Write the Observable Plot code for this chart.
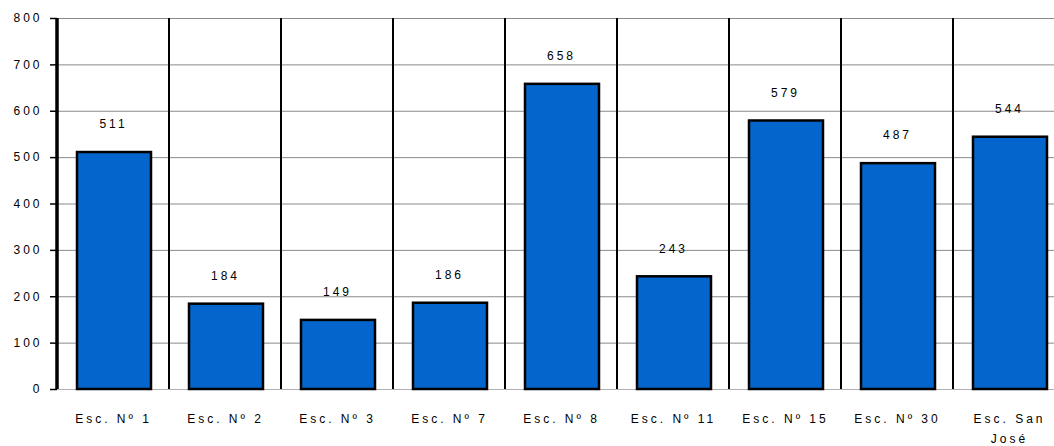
<!DOCTYPE html>
<html>
<head>
<meta charset="utf-8">
<script src="https://cdn.jsdelivr.net/npm/d3@7"></script>
<script src="https://cdn.jsdelivr.net/npm/@observablehq/plot@0.6"></script>
<style>
  html, body { margin: 0; padding: 0; background: #fff; overflow: hidden; }
  svg { font-family: "Liberation Sans", Arial, sans-serif; letter-spacing: 3px; }
</style>
</head>
<body>
<div id="chart"></div>
<script>
const categories = ["Esc. Nº 1", "Esc. Nº 2", "Esc. Nº 3", "Esc. Nº 7", "Esc. Nº 8", "Esc. Nº 11", "Esc. Nº 15", "Esc. Nº 30", "Esc. San\nJosé"];
const values = [511, 184, 149, 186, 658, 243, 579, 487, 544];
const yTicks = [0, 100, 200, 300, 400, 500, 600, 700, 800];

const data = categories.map((c, i) => ({cat: c, value: values[i]}));

// vertical separators at band starts, drawn through the band scale
function separators(index, scales, values, dims) {
  const g = d3.create("svg:g");
  const y0 = scales.y(0), y1 = scales.y(800);
  categories.forEach((c, i) => {
    const x = scales.x(c);
    g.append("line")
      .attr("x1", x).attr("x2", x)
      .attr("y1", y0).attr("y2", y1)
      .attr("stroke", "#000")
      .attr("stroke-width", i === 0 ? 3.5 : 2);
  });
  return g.node();
}

const chart = Plot.plot({
  width: 1054,
  height: 446,
  marginTop: 18,
  marginBottom: 57,
  marginLeft: 57,
  marginRight: 0,
  style: {fontSize: "12px", fontFamily: "'Liberation Sans', Arial, sans-serif", color: "#000", background: "#fff"},
  x: {domain: categories, range: [57, 1065], padding: 0, label: null},
  y: {domain: [0, 800], label: null},
  marks: [
    Plot.ruleY(yTicks.filter(t => t > 0), {stroke: "#8a8a8a", strokeWidth: 1}),
    Plot.ruleY([0], {stroke: "#b0b0b0", strokeWidth: 1}),
    Plot.barY(data, {x: "cat", y: "value", fill: "#0466cc", stroke: "#000", strokeWidth: 2.5, insetLeft: 20, insetRight: 18}),
    separators,
    Plot.text(data, {x: "cat", y: "value", text: d => String(d.value), dy: -28, fill: "#000", fontSize: 12}),
    Plot.axisY({ticks: yTicks, tickSize: 7, tickPadding: 8, stroke: "#000", strokeWidth: 1.5, fontSize: 12, label: null}),
    Plot.axisX({tickSize: 0, tickPadding: 19, fontSize: 12, lineHeight: 1.7, label: null, textAnchor: "middle"})
  ]
});
document.getElementById("chart").appendChild(chart);
</script>
</body>
</html>
